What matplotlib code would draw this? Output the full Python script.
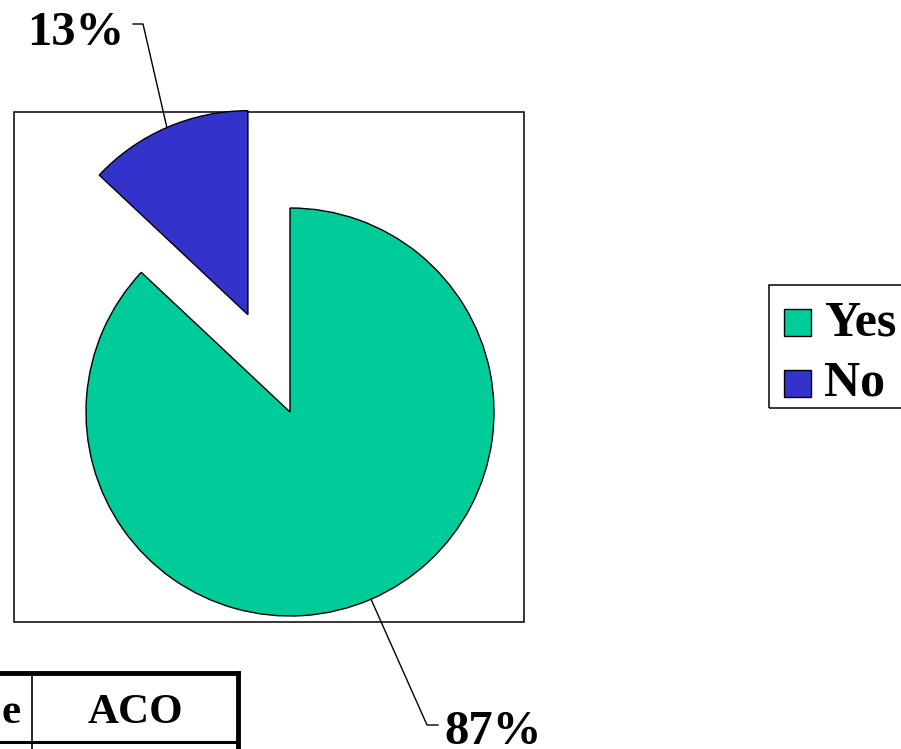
import numpy as np
import matplotlib.pyplot as plt
from matplotlib.patches import Rectangle

# data
labels = ["Yes", "No"]
shares = [87, 13]
pct_text = ["87%", "13%"]
colors = ["#00CC99", "#3333CC"]
table_cells = ["e", "ACO"]

W, H = 901, 749


def py(y):
	# pixel row (from top) -> data y
	return H - y


fig = plt.figure(figsize=(W / 100, H / 100), dpi=100)
ax = fig.add_axes([0, 0, 1, 1])

serif = "Liberation Serif"

# plot area frame
ax.add_patch(Rectangle((14, py(622)), 510, 510, fill=False, edgecolor="black", lw=1.1))

# pie, the "No" slice pulled out
wedges, _ = ax.pie(shares, colors=colors, startangle=90, counterclock=False,
				   center=(290, py(412)), radius=204, explode=[0, 106],
				   wedgeprops=dict(edgecolor="black", linewidth=1.0), frame=True)

# leader lines + labels (start on the middle of each slice's arc)
elbows = {"Yes": [(427, 725), (438, 725)], "No": [(143, 24), (133, 24)]}
text_pos = {"Yes": (444, 744, "left"), "No": (124, 45, "right")}
for w, lab, txt in zip(wedges, labels, pct_text):
	mid = np.deg2rad((w.theta1 + w.theta2) / 2)
	cx, cy = w.center
	x0 = cx + w.r * np.cos(mid)
	y0 = cy + w.r * np.sin(mid)
	xs = [x0] + [p[0] for p in elbows[lab]]
	ys = [y0] + [py(p[1]) for p in elbows[lab]]
	ax.plot(xs, ys, color="black", lw=1.0)
	tx, ty, ha = text_pos[lab]
	ax.text(tx, py(ty), txt, ha=ha, va="baseline", fontsize=35, fontweight="bold",
			family=serif)

# legend (drawn by hand, it runs off the right edge like the original)
ax.add_patch(Rectangle((769, py(408)), 160, 123, fill=False, edgecolor="black", lw=1.1,
					   clip_on=False))
rows_top = [309, 370]
for lab, c, top in zip(labels, colors, rows_top):
	ax.add_patch(Rectangle((784, py(top + 27)), 27, 27, facecolor=c, edgecolor="black", lw=1.0))
	ax.text(824, py(top + 26), lab, ha="left", va="baseline", fontsize=36,
			fontweight="bold", family=serif)

# table fragment at bottom left
ax.plot([-10, 238], [py(673), py(673)], color="black", lw=3.5, solid_capstyle="projecting")
ax.plot([238, 238], [py(673), py(760)], color="black", lw=3.5)
ax.plot([-10, 238], [py(742), py(742)], color="black", lw=2.2)
ax.plot([32, 32], [py(673), py(760)], color="black", lw=1.2)
ax.text(21, py(723), table_cells[0], ha="right", va="baseline", fontsize=31,
		fontweight="bold", family=serif)
ax.text(135, py(723), table_cells[1], ha="center", va="baseline", fontsize=31,
		fontweight="bold", family=serif)

ax.set_xlim(0, W)
ax.set_ylim(0, H)
ax.set_aspect("auto")
ax.axis("off")

fig.savefig("out.png", dpi=100)
